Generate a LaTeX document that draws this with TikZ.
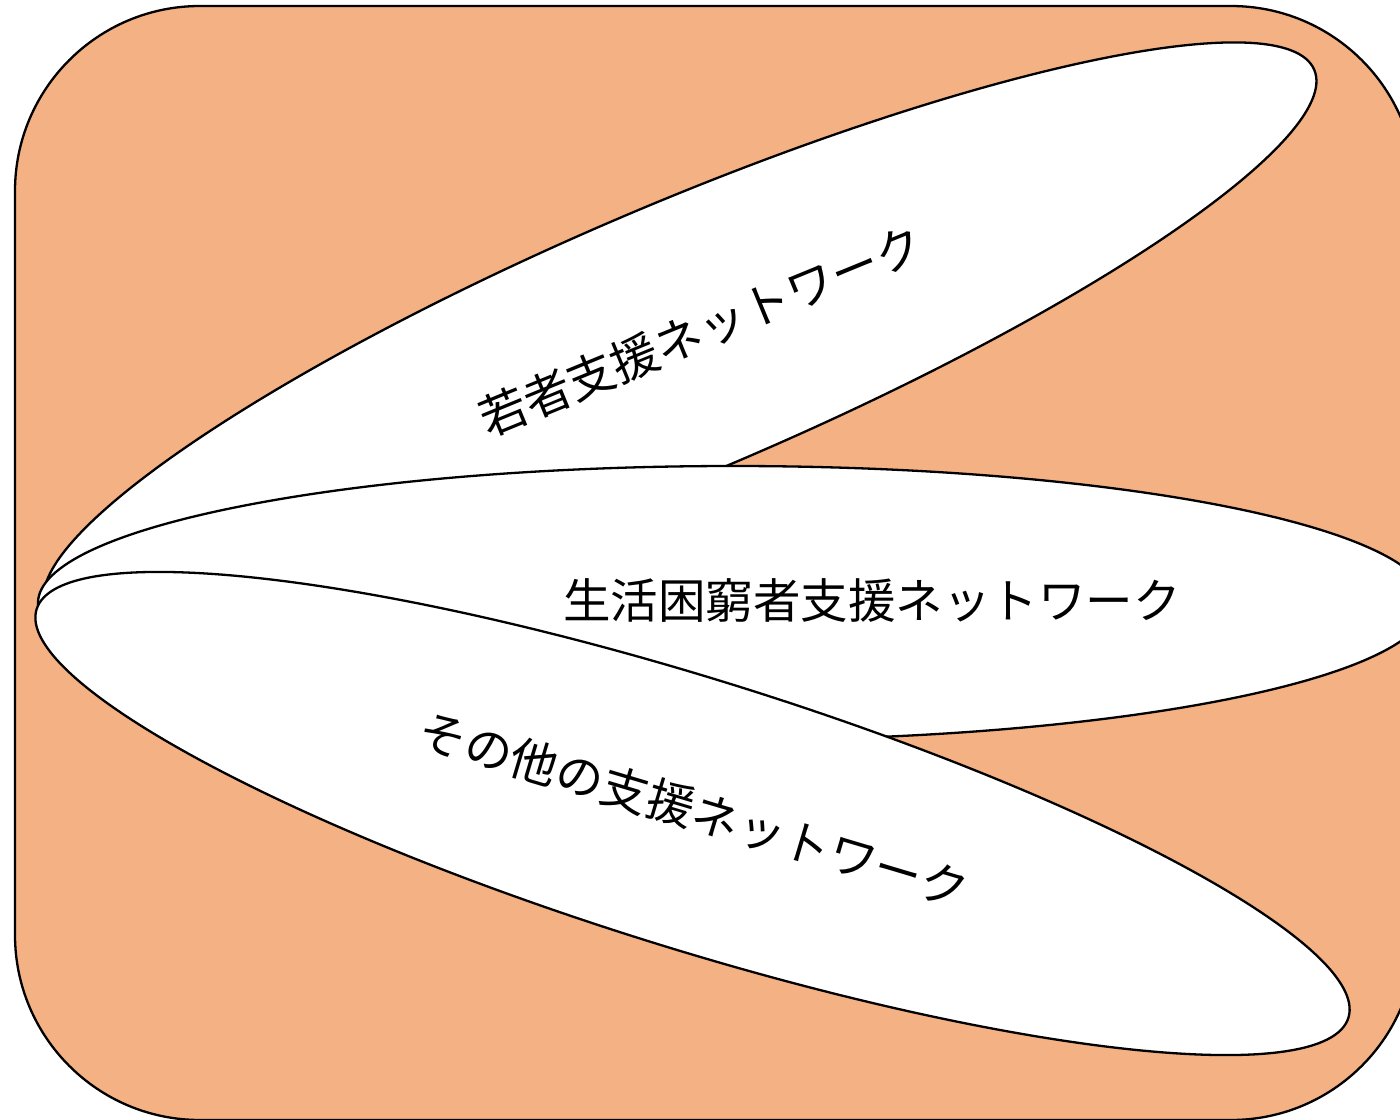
\documentclass[tikz,border=0pt]{standalone}
\usepackage{fontspec}
\newfontfamily\jp{Noto Sans CJK JP}
\usetikzlibrary{shapes.geometric}
\definecolor{bgorange}{HTML}{F4B183}
\tikzset{
  frame/.style={draw=black, line width=2.3pt, fill=bgorange, rounded corners=185pt, inner sep=0pt, outer sep=0pt},
  net/.style={ellipse, draw=black, line width=2.3pt, fill=white, inner sep=0pt, outer sep=0pt},
  label/.style={font=\jp\fontsize{47.5}{52}\selectfont, inner sep=0pt, text=black}
}
\begin{document}
\begin{tikzpicture}[x=1pt, y=-1pt]
  \useasboundingbox (0,0) rectangle (1400,1119);
  \node[frame, minimum width=1401pt, minimum height=1114pt] (frame) at (715.5,563) {};
  \node[net, minimum width=1378pt, minimum height=270pt, rotate=23] (youth) at (680,339) {};
  \node[net, minimum width=1390pt, minimum height=274pt] (poverty) at (733,603) {};
  \node[net, minimum width=1374pt, minimum height=270pt, rotate=-17.3] (other) at (692.5,813.5) {};
  \node[label, rotate=22.3] (youthtext) at (701,331) {若者支援ネットワーク};
  \node[label] (povertytext) at (872,601) {生活困窮者支援ネットワーク};
  \node[label, rotate=-16.6] (othertext) at (694,810) {その他の支援ネットワーク};
\end{tikzpicture}
\end{document}
